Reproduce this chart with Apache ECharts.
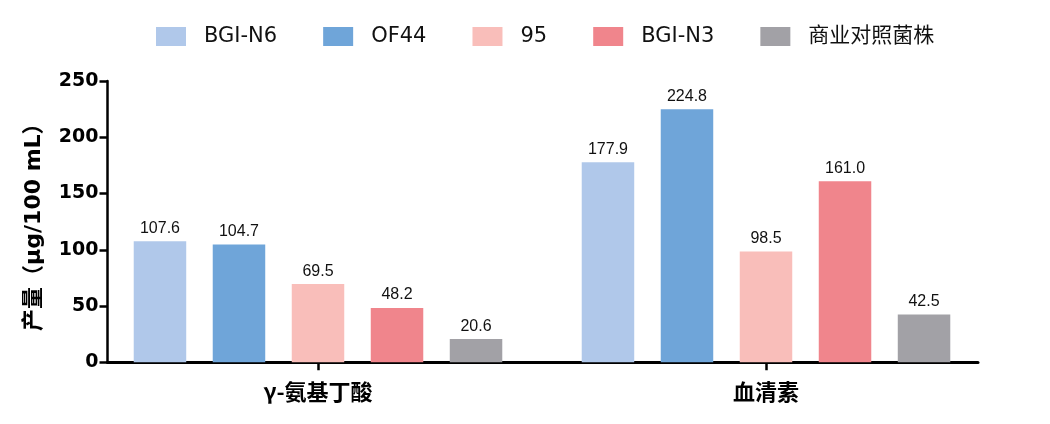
<!DOCTYPE html>
<html>
<head>
<meta charset="utf-8">
<script src="https://cdn.jsdelivr.net/npm/echarts@6/dist/echarts.min.js"></script>
<style>
html,body{margin:0;padding:0;background:#fff;}
#chart{width:1050px;height:424px;}
</style>
</head>
<body>
<div id="chart"></div>
<script>
const categories = ['γ-氨基丁酸', '血清素'];
const seriesNames = ['BGI-N6', 'OF44', '95', 'BGI-N3', '商业对照菌株'];
const bgiN6 = [107.6, 177.9];
const of44 = [104.7, 224.8];
const s95 = [69.5, 98.5];
const bgiN3 = [48.2, 161.0];
const control = [20.6, 42.5];
const yTicks = [0, 50, 100, 150, 200, 250];
const colors = ['#B0C8EA', '#6FA5D9', '#F9BEBA', '#F0858C', '#A2A1A6'];

const seriesData = [bgiN6, of44, s95, bgiN3, control];

const chart = echarts.init(document.getElementById('chart'), null, {renderer: 'canvas'});

const series = seriesNames.map((name, i) => ({
  name: name,
  type: 'bar',
  xAxisIndex: 0,
  yAxisIndex: 0,
  data: seriesData[i],
  barWidth: 52.5,
  barGap: '50.5%',
  itemStyle: { color: colors[i] },
  label: {
    show: true,
    position: 'top',
    distance: 5,
    color: '#111',
    fontSize: 16,
    fontFamily: 'Liberation Sans, Arial, sans-serif',
    formatter: p => p.value.toFixed(1)
  },
  emphasis: { disabled: true },
  animation: false
}));

const option = {
  animation: false,
  backgroundColor: '#fff',
  legend: {
    data: seriesNames,
    left: 151,
    top: 21,
    itemWidth: 30,
    itemHeight: 19,
    itemGap: 46,
    icon: 'rect',
    textStyle: {
      fontSize: 21,
      color: '#111',
      fontFamily: 'DejaVu Sans, Noto Sans CJK SC, sans-serif',
      padding: [0, 0, 0, 13]
    }
  },
  grid: [
    { left: 94, right: 60, top: 81, bottom: 61.7 },
    { left: 107.5, right: 72, top: 81, bottom: 61.7 }
  ],
  xAxis: [
    {
      type: 'category',
      gridIndex: 0,
      data: categories,
      axisLine: { show: false },
      axisTick: { show: true, alignWithLabel: true, length: 8, lineStyle: { color: '#000', width: 2.5 } },
      axisLabel: {
        margin: 18,
        color: '#000',
        fontSize: 22,
        fontWeight: 'bold',
        fontFamily: 'Noto Sans CJK SC, sans-serif'
      },
      splitLine: { show: false }
    },
    {
      type: 'value',
      gridIndex: 1,
      min: 0,
      max: 1,
      axisLine: { show: true, lineStyle: { color: '#000', width: 3 } },
      axisTick: { show: false },
      axisLabel: { show: false },
      splitLine: { show: false }
    }
  ],
  yAxis: [
    {
      type: 'value',
      gridIndex: 0,
      min: 0,
      max: 250,
      interval: 50,
      show: false,
      splitLine: { show: false }
    },
    {
      type: 'value',
      gridIndex: 1,
      min: yTicks[0],
      max: yTicks[yTicks.length - 1],
      interval: 50,
      name: '产量（μg/100 mL）',
      nameLocation: 'middle',
      nameGap: 62,
      nameRotate: 90,
      nameTextStyle: {
        fontSize: 22,
        fontWeight: 'bold',
        color: '#000',
        fontFamily: 'DejaVu Sans, Noto Sans CJK SC, sans-serif'
      },
      axisLine: { show: true, lineStyle: { color: '#000', width: 2.5 } },
      axisTick: { show: true, inside: false, length: 8, lineStyle: { color: '#000', width: 2.5 } },
      axisLabel: {
        margin: 9,
        color: '#000',
        fontSize: 19,
        fontWeight: 'bold',
        fontFamily: 'DejaVu Sans, sans-serif'
      },
      splitLine: { show: false }
    }
  ],
  series: series
};

chart.setOption(option);
</script>
</body>
</html>
